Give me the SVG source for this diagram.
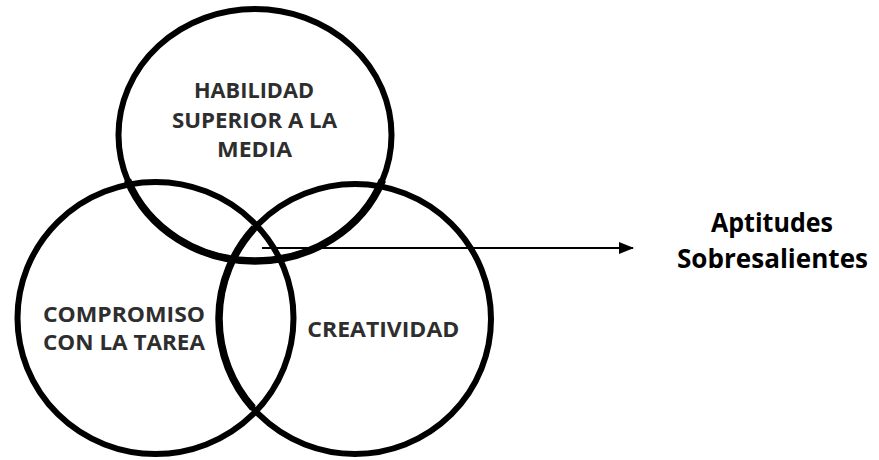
<svg xmlns="http://www.w3.org/2000/svg" width="879" height="460" viewBox="0 0 879 460">
<style>
.ring{fill:none;stroke:#000;stroke-width:6}
.thick{fill:none;stroke:#000;stroke-width:7.5;stroke-linecap:butt}
.lbl{font-family:"Open Sans","Liberation Sans",sans-serif;font-weight:700;font-size:21px;fill:#2e2e2e;text-anchor:middle}
.out{font-family:"Open Sans","Liberation Sans",sans-serif;font-weight:700;font-size:27px;fill:#000;text-anchor:middle}
</style>
<defs>
<marker id="ah" markerWidth="16" markerHeight="12" refX="14" refY="6" orient="auto" markerUnits="userSpaceOnUse">
<polygon points="0,0 15,6 0,12" fill="#000"/>
</marker>
</defs>
<rect width="879" height="460" fill="#fff"/>
<g id="habilidad">
<ellipse class="ring" cx="255" cy="135" rx="136.5" ry="126"/>
<text class="lbl" x="254" y="98" textLength="120" lengthAdjust="spacingAndGlyphs">HABILIDAD</text>
<text class="lbl" x="254.5" y="128" textLength="165" lengthAdjust="spacingAndGlyphs">SUPERIOR A LA</text>
<text class="lbl" x="254.5" y="157" textLength="75" lengthAdjust="spacingAndGlyphs">MEDIA</text>
</g>
<g id="compromiso">
<ellipse class="ring" cx="155.5" cy="318" rx="138" ry="136"/>
<text class="lbl" x="124" y="322" textLength="162" lengthAdjust="spacingAndGlyphs">COMPROMISO</text>
<text class="lbl" x="124" y="350" textLength="162" lengthAdjust="spacingAndGlyphs">CON LA TAREA</text>
</g>
<g id="creatividad">
<ellipse class="ring" cx="355" cy="319" rx="136" ry="135"/>
<text class="lbl" x="383.3" y="337" textLength="152" lengthAdjust="spacingAndGlyphs">CREATIVIDAD</text>
</g>
<g id="overlaps">
<path class="thick" d="M 127.5,180 A 136.5 126 0 0 0 382.5,180"/>
<path class="thick" d="M 254.3,228 A 136 135 0 0 0 253,408"/>
</g>
<g id="connectors">
<line x1="262" y1="248" x2="633" y2="248" stroke="#000" stroke-width="2" marker-end="url(#ah)"/>
</g>
<g id="aptitudes">
<text class="out" x="772" y="232" textLength="122" lengthAdjust="spacingAndGlyphs">Aptitudes</text>
<text class="out" x="772.5" y="268" textLength="191" lengthAdjust="spacingAndGlyphs">Sobresalientes</text>
</g>
</svg>
